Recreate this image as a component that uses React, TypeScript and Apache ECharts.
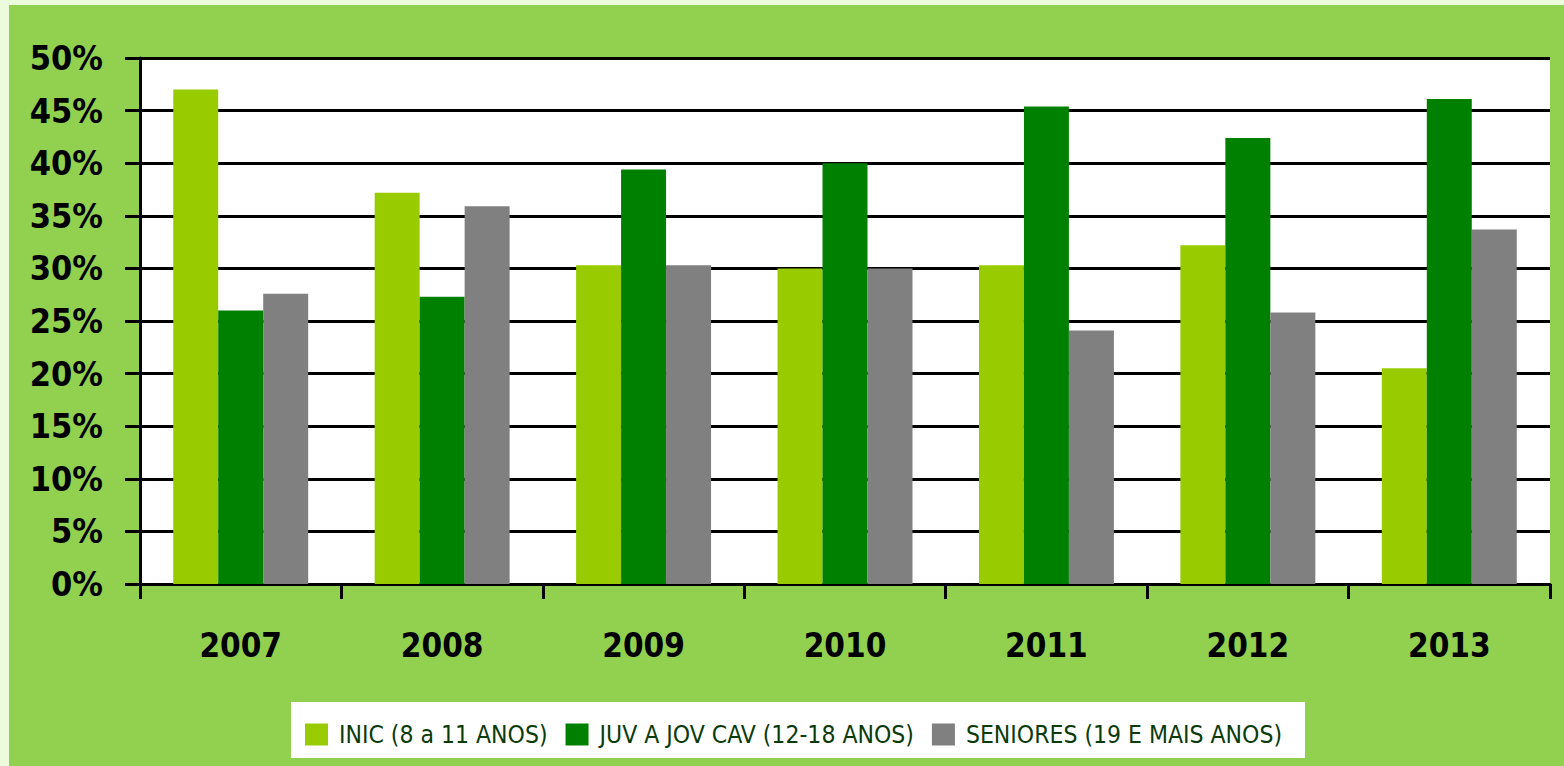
import React, { useEffect, useRef } from "react";
import * as echarts from "echarts";

const categories = ["2007", "2008", "2009", "2010", "2011", "2012", "2013"];
const inicValues = [47.0, 37.2, 30.3, 30.0, 30.3, 32.2, 20.5];
const juvValues = [26.0, 27.3, 39.4, 40.0, 45.4, 42.4, 46.1];
const seniorValues = [27.6, 35.9, 30.3, 30.0, 24.1, 25.8, 33.7];
const seriesNames = [
  "INIC (8 a 11 ANOS)",
  "JUV A JOV CAV (12-18 ANOS)",
  "SENIORES (19 E MAIS ANOS)",
];
const seriesColors = ["#99cc00", "#008000", "#808080"];

const FONT = "'DejaVu Sans Condensed', 'Liberation Sans', sans-serif";

export default function App() {
  const ref = useRef<HTMLDivElement>(null);
  useEffect(() => {
    document.body.style.margin = "0";
    if (!ref.current) return;
    const chart = echarts.init(ref.current, undefined, { renderer: "svg" });
    const values = [inicValues, juvValues, seniorValues];
    chart.setOption({
      animation: false,
      backgroundColor: "#92d050",
      graphic: [
        {
          type: "rect",
          left: 282,
          top: 697,
          shape: { width: 1014, height: 56 },
          style: { fill: "#ffffff" },
          z: 0,
        },
      ],
      grid: {
        left: 131,
        right: 14,
        top: 53,
        bottom: 182,
        show: true,
        backgroundColor: "#ffffff",
        borderWidth: 0,
      },
      legend: {
        left: 291,
        top: 712,
        itemWidth: 23,
        itemHeight: 22,
        itemGap: 18,
        icon: "rect",
        textStyle: {
          fontFamily: FONT,
          fontSize: 24.5,
          color: "#0b3b0b",
          padding: [0, 0, 0, 6],
        },
        data: seriesNames,
      },
      xAxis: {
        type: "category",
        data: categories,
        axisLine: { lineStyle: { color: "#000", width: 3 } },
        axisTick: { show: true, length: 15, lineStyle: { color: "#000", width: 3 } },
        axisLabel: {
          margin: 45,
          fontFamily: FONT,
          fontWeight: "bold",
          fontSize: 33,
          color: "#000",
        },
      },
      yAxis: {
        type: "value",
        min: 0,
        max: 50,
        interval: 5,
        axisLine: { show: true, lineStyle: { color: "#000", width: 3 } },
        axisTick: { show: true, length: 15, lineStyle: { color: "#000", width: 3 } },
        splitLine: { show: true, lineStyle: { color: "#000", width: 3 } },
        axisLabel: {
          margin: 37,
          formatter: "{value}%",
          fontFamily: FONT,
          fontWeight: "bold",
          fontSize: 34,
          color: "#000",
        },
      },
      series: seriesNames.map((name, i) => ({
        name,
        type: "bar",
        data: values[i],
        barGap: "0%",
        barCategoryGap: "33%",
        itemStyle: { color: seriesColors[i] },
        z: 3,
      })),
    });
    return () => chart.dispose();
  }, []);
  return (
    <div style={{ width: 1564, height: 766, background: "#ebfbdc", position: "relative" }}>
      <div
        ref={ref}
        style={{ position: "absolute", left: 9, top: 5, width: 1555, height: 761 }}
      />
    </div>
  );
}
